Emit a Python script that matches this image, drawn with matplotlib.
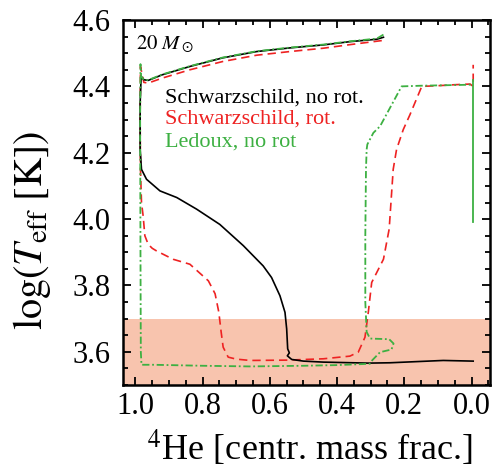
import matplotlib
matplotlib.use("Agg")
import matplotlib.pyplot as plt
from matplotlib.ticker import MultipleLocator

plt.rcParams["font.family"] = ["Liberation Serif", "DejaVu Serif"]
plt.rcParams["mathtext.fontset"] = "stix"

# Schwarzschild, no rotation (black, solid)
schw_he = [0.262, 0.282, 0.36, 0.441, 0.54, 0.639, 0.74, 0.838, 0.92, 0.962,
           0.975, 0.983, 0.986, 0.986, 0.982, 0.967, 0.927, 0.877, 0.818,
           0.749, 0.679, 0.62, 0.595, 0.57, 0.555, 0.55, 0.547, 0.542, 0.548,
           0.535, 0.50, 0.441, 0.307, 0.243, 0.084, -0.005]
schw_teff = [4.548, 4.542, 4.535, 4.525, 4.516, 4.505, 4.486, 4.46, 4.435, 4.418,
             4.42, 4.43, 4.35, 4.21, 4.15, 4.12, 4.085, 4.065, 4.03,
             3.984, 3.92, 3.859, 3.824, 3.769, 3.719, 3.669, 3.609, 3.597, 3.588,
             3.577, 3.572, 3.569, 3.566, 3.567, 3.574, 3.572]

# Schwarzschild, rotating (red, dashed)
rot_he = [0.267, 0.36, 0.441, 0.54, 0.639, 0.74, 0.838, 0.92, 0.962, 0.975,
          0.985, 0.986, 0.985, 0.982, 0.977, 0.972, 0.962, 0.95, 0.937, 0.888,
          0.838, 0.783, 0.763, 0.752, 0.745, 0.739, 0.724, 0.70, 0.659, 0.55,
          0.441, 0.362, 0.337, 0.317, 0.307, 0.297, 0.262, 0.245, 0.233, 0.223,
          0.203, 0.183, 0.148, 0.10, 0.05, 0.004, -0.005, -0.005]
rot_teff = [4.538, 4.526, 4.515, 4.505, 4.494, 4.475, 4.45, 4.425, 4.41, 4.412,
            4.46, 4.3, 4.15, 4.05, 4.009, 3.95, 3.924, 3.912, 3.904, 3.879,
            3.864, 3.814, 3.775, 3.72, 3.66, 3.614, 3.584, 3.578, 3.574, 3.575,
            3.579, 3.587, 3.599, 3.644, 3.72, 3.809, 3.879, 3.97, 4.15, 4.21,
            4.27, 4.315, 4.4, 4.402, 4.405, 4.407, 4.40, 4.465]

# Ledoux, no rotation (green, dash-dot)
led_he = [0.262, 0.282, 0.36, 0.441, 0.54, 0.639, 0.74, 0.838, 0.92, 0.962,
          0.975, 0.983, 0.985, 0.986, 0.985, 0.984, 0.982, 0.947, 0.8, 0.659,
          0.5, 0.40, 0.302, 0.295, 0.272, 0.238, 0.232, 0.245, 0.302, 0.312,
          0.316, 0.316, 0.314, 0.312, 0.31, 0.292, 0.272, 0.208, 0.15, 0.05,
          0.004, -0.003]
led_teff = [4.556, 4.544, 4.536, 4.526, 4.517, 4.506, 4.487, 4.461, 4.436, 4.419,
            4.42, 4.43, 4.467, 4.3, 3.9, 3.6, 3.561, 3.561, 3.558, 3.556,
            3.558, 3.56, 3.564, 3.575, 3.599, 3.607, 3.625, 3.638, 3.64, 3.66,
            3.75, 3.95, 4.15, 4.21, 4.225, 4.26, 4.28, 4.4, 4.402, 4.404,
            4.405, 4.41]
led_tail_he = [-0.003, -0.003]
led_tail_teff = [4.42, 3.99]

red_giant_band = (3.5, 3.7)

fig = plt.figure(figsize=(4.93, 4.72), dpi=100)
ax = fig.add_axes([0.2495, 0.1843, 0.7444, 0.7733])

ax.axhspan(*red_giant_band, color="#F8C4AE", lw=0, zorder=0)

ax.plot(schw_he, schw_teff, color="black", lw=1.2, zorder=3)
ax.plot(rot_he, rot_teff, color="#EE2222", lw=1.2, dashes=(5, 3), zorder=2)
ax.plot(led_he, led_teff, color="#3DB042", lw=1.3, dashes=(4, 1.5, 1, 1.5), zorder=4)
ax.plot(led_tail_he, led_tail_teff, color="#3DB042", lw=1.3, zorder=4)

ax.set_xlim(1.037, -0.055)
ax.set_ylim(3.5, 4.6)

ax.xaxis.set_major_locator(MultipleLocator(0.2))
ax.xaxis.set_minor_locator(MultipleLocator(0.05))
ax.yaxis.set_major_locator(MultipleLocator(0.2))
ax.yaxis.set_minor_locator(MultipleLocator(0.05))
ax.xaxis.set_major_formatter(plt.FuncFormatter(lambda v, p: f"{abs(v):.1f}"))
ax.yaxis.set_major_formatter(plt.FuncFormatter(lambda v, p: f"{v:.1f}"))

ax.tick_params(which="both", direction="in", top=True, right=True, width=1.3,
               labelsize=22)
ax.tick_params(which="major", length=6)
ax.tick_params(which="minor", length=3.5)
ax.tick_params(axis="y", pad=9)
ax.tick_params(axis="x", pad=5)
for s in ax.spines.values():
    s.set_linewidth(1.8)

ax.set_xlabel(r"$^4$He [centr. mass frac.]", fontsize=26)
ax.set_ylabel(r"$\log(T_{\rm eff}\ [{\rm K}])$", fontsize=29)
ax.xaxis.set_label_coords(0.51, -0.118)
ax.yaxis.set_label_coords(-0.19, 0.425)

ax.text(0.035, 0.962, r"$20\ M_\odot$", transform=ax.transAxes, fontsize=15,
        va="top", ha="left")
ax.text(0.114, 0.773, "Schwarzschild, no rot.", transform=ax.transAxes,
        fontsize=16, color="black", va="baseline")
ax.text(0.114, 0.716, "Schwarzschild, rot.", transform=ax.transAxes,
        fontsize=16, color="#EE2222", va="baseline")
ax.text(0.114, 0.653, "Ledoux, no rot", transform=ax.transAxes,
        fontsize=16, color="#3DB042", va="baseline")

fig.savefig("out.png", dpi=100)
